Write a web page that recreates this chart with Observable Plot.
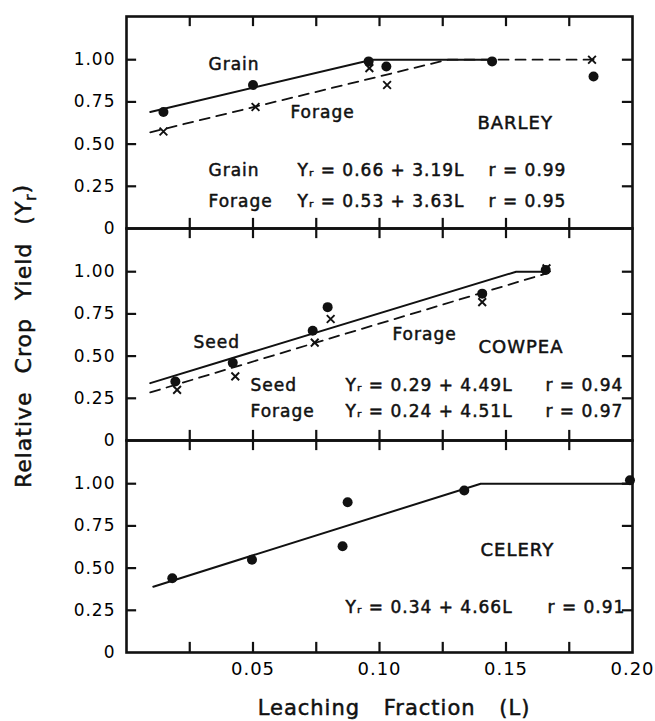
<!DOCTYPE html>
<html><head><meta charset="utf-8">
<script src="https://cdn.jsdelivr.net/npm/d3@7"></script>
<script src="https://cdn.jsdelivr.net/npm/@observablehq/plot@0.6"></script>
<style>
body{margin:0;background:#fff}
#chart svg text{letter-spacing:1px}
</style>
</head><body><div id="chart"></div>
<script>
// ---------- data ----------
const panels = ["BARLEY", "COWPEA", "CELERY"];
const xTickLabels = [0.05, 0.10, 0.15, 0.20];
const xMinorTicks = [0.025, 0.05, 0.075, 0.10, 0.125, 0.15, 0.175];
const yTickValues = [0, 0.25, 0.50, 0.75, 1.00];

// measured points (L, relative yield)
const barleyGrainL = [0.0146, 0.050, 0.0957, 0.1027, 0.1445, 0.1846];
const barleyGrainY = [0.69, 0.85, 0.99, 0.96, 0.99, 0.90];
const barleyForageL = [0.0146, 0.051, 0.096, 0.103, 0.184];
const barleyForageY = [0.575, 0.72, 0.95, 0.85, 1.00];

const cowpeaSeedL = [0.0193, 0.042, 0.0736, 0.0795, 0.1406, 0.1657];
const cowpeaSeedY = [0.35, 0.46, 0.65, 0.79, 0.87, 1.01];
const cowpeaForageL = [0.020, 0.043, 0.0744, 0.0807, 0.1406, 0.166];
const cowpeaForageY = [0.30, 0.38, 0.58, 0.72, 0.82, 1.02];

const celeryL = [0.0181, 0.0496, 0.0854, 0.0874, 0.1335, 0.199];
const celeryY = [0.44, 0.55, 0.63, 0.89, 0.96, 1.02];

// fitted lines (linear rise, then plateau at 1.0)
const barleyGrainFitL = [0.0094, 0.097, 0.145];
const barleyGrainFitY = [0.69, 1.00, 1.00];
const barleyForageFitL = [0.0094, 0.127, 0.185];
const barleyForageFitY = [0.57, 1.00, 1.00];
const cowpeaSeedFitL = [0.0094, 0.154, 0.166];
const cowpeaSeedFitY = [0.34, 1.00, 1.00];
const cowpeaForageFitL = [0.0094, 0.166];
const cowpeaForageFitY = [0.285, 0.99];
const celeryFitL = [0.0106, 0.140, 0.200];
const celeryFitY = [0.39, 1.00, 1.00];

// texts
const barleyTexts = ["Grain", "Forage", "BARLEY", "Grain", "Forage",
  "Yᵣ = 0.66 + 3.19L", "Yᵣ = 0.53 + 3.63L", "r = 0.99", "r = 0.95"];
const cowpeaTexts = ["Seed", "Forage", "COWPEA", "Seed", "Forage",
  "Yᵣ = 0.29 + 4.49L", "Yᵣ = 0.24 + 4.51L", "r = 0.94", "r = 0.97"];
const celeryTexts = ["CELERY", "Yᵣ = 0.34 + 4.66L", "r = 0.91"];
const xTitle = "Leaching Fraction (L)";
const yTitle = "Relative Crop Yield (Y";
const yTitleSub = "r";

// ---------- layout (annotation anchors in data space) ----------
const barleyPos = [[0.0324,0.970],[0.0648,0.686],[0.1387,0.621],[0.0324,0.343],[0.0324,0.160],
  [0.0676,0.343],[0.0676,0.160],[0.1431,0.343],[0.1431,0.160]];
const cowpeaPos = [[0.0265,0.582],[0.1051,0.629],[0.1391,0.553],[0.049,0.324],[0.049,0.171],
  [0.0866,0.324],[0.0866,0.171],[0.1656,0.324],[0.1656,0.171]];
const celeryPos = [[0.1399,0.607],[0.0866,0.268],[0.1664,0.268]];

// ---------- build tables ----------
const pts = (panel, kind, Ls, Ys) => Ls.map((L, i) => ({panel, kind, L, Y: Ys[i]}));
const points = [
  ...pts("BARLEY", "dot", barleyGrainL, barleyGrainY),
  ...pts("BARLEY", "cross", barleyForageL, barleyForageY),
  ...pts("COWPEA", "dot", cowpeaSeedL, cowpeaSeedY),
  ...pts("COWPEA", "cross", cowpeaForageL, cowpeaForageY),
  ...pts("CELERY", "dot", celeryL, celeryY)
];
const fitRows = (panel, series, style, Ls, Ys) => Ls.map((L, i) => ({panel, series, style, L, Y: Ys[i]}));
const fits = [
  ...fitRows("BARLEY", "bg", "solid", barleyGrainFitL, barleyGrainFitY),
  ...fitRows("BARLEY", "bf", "dash", barleyForageFitL, barleyForageFitY),
  ...fitRows("COWPEA", "cs", "solid", cowpeaSeedFitL, cowpeaSeedFitY),
  ...fitRows("COWPEA", "cf", "dash", cowpeaForageFitL, cowpeaForageFitY),
  ...fitRows("CELERY", "ce", "solid", celeryFitL, celeryFitY)
];
const texts = (panel, arr, pos) => arr.map((t, i) => ({panel, text: t, L: pos[i][0], Y: pos[i][1],
  big: /^[A-Z]+$/.test(t)}));
const labels = [
  ...texts("BARLEY", barleyTexts, barleyPos),
  ...texts("COWPEA", cowpeaTexts, cowpeaPos),
  ...texts("CELERY", celeryTexts, celeryPos)
];

const yMax = 1.256;
const xMax = 0.20;
const tickLenX = 0.0040, tickLenY = 0.060;

// inward ticks, one row per panel per tick (both edges)
const xTickRows = panels.flatMap(p => xMinorTicks.flatMap(t => [
  {panel: p, L: t, Y1: 0, Y2: tickLenY},
  {panel: p, L: t, Y1: yMax, Y2: yMax - tickLenY}
]));
const yTickRows = panels.flatMap(p => yTickValues.slice(1).flatMap(t => [
  {panel: p, Y: t, L1: 0, L2: tickLenX},
  {panel: p, Y: t, L1: xMax, L2: xMax - tickLenX}
]));

const FONT = "DejaVu Sans";
const INK = "#111";

const chart = Plot.plot({
  width: 655, height: 721,
  marginLeft: 126, marginRight: 23, marginTop: 15, marginBottom: 69,
  style: {fontFamily: FONT, fontSize: "17px"},
  x: {domain: [0, xMax]},
  y: {domain: [0, yMax]},
  fy: {domain: panels, padding: 0, axis: null},
  marks: [
    Plot.line(fits.filter(d => d.style === "solid"), {x: "L", y: "Y", fy: "panel", z: "series",
      stroke: INK, strokeWidth: 2}),
    Plot.line(fits.filter(d => d.style === "dash"), {x: "L", y: "Y", fy: "panel", z: "series",
      stroke: INK, strokeWidth: 1.8, strokeDasharray: "10,7"}),
    Plot.dot(points.filter(d => d.kind === "cross"), {x: "L", y: "Y", fy: "panel", symbol: "times",
      r: 3.6, stroke: INK, strokeWidth: 1.9}),
    Plot.dot(points.filter(d => d.kind === "dot"), {x: "L", y: "Y", fy: "panel",
      r: 5, fill: INK}),
    Plot.text(labels.filter(d => !d.big), {x: "L", y: "Y", fy: "panel", text: "text",
      textAnchor: "start", fontSize: 17, fill: INK, stroke: INK, strokeWidth: 0.5, fontFamily: FONT}),
    Plot.text(labels.filter(d => d.big), {x: "L", y: "Y", fy: "panel", text: "text",
      textAnchor: "start", fontSize: 18, fill: INK, stroke: INK, strokeWidth: 0.5, fontFamily: FONT}),
    Plot.axisY({ticks: yTickValues, tickSize: 0, tickPadding: 11, label: null,
      tickFormat: d => d === 0 ? "0" : d.toFixed(2), fontSize: 17}),
    Plot.axisX({ticks: xTickLabels, tickSize: 0, tickPadding: 10, label: null,
      tickFormat: d => d.toFixed(2), fontSize: 18}),
    Plot.frame({stroke: INK, strokeWidth: 2.6}),
    Plot.ruleX(xTickRows, {x: "L", y1: "Y1", y2: "Y2", fy: "panel", strokeWidth: 2.2, stroke: INK}),
    Plot.ruleY(yTickRows, {y: "Y", x1: "L1", x2: "L2", fy: "panel", strokeWidth: 2.2, stroke: INK})
  ]
});

document.getElementById("chart").appendChild(chart);

const svg = d3.select(chart);
svg.append("text")
  .attr("x", 394).attr("y", 715)
  .attr("text-anchor", "middle")
  .attr("font-family", FONT).attr("font-size", 21)
  .attr("fill", INK).attr("stroke", INK).attr("stroke-width", 0.5)
  .style("word-spacing", "16px")
  .text(xTitle);
const yt = svg.append("text")
  .attr("transform", "translate(31,336) rotate(-90)")
  .attr("text-anchor", "middle")
  .attr("font-family", FONT).attr("font-size", 22)
  .attr("fill", INK).attr("stroke", INK).attr("stroke-width", 0.5)
  .style("word-spacing", "10px");
yt.append("tspan").text(yTitle);
yt.append("tspan").attr("font-size", 15).attr("dy", "0.3em").text(yTitleSub);
yt.append("tspan").attr("dy", "-0.3em").text(")");
</script>
</body></html>
